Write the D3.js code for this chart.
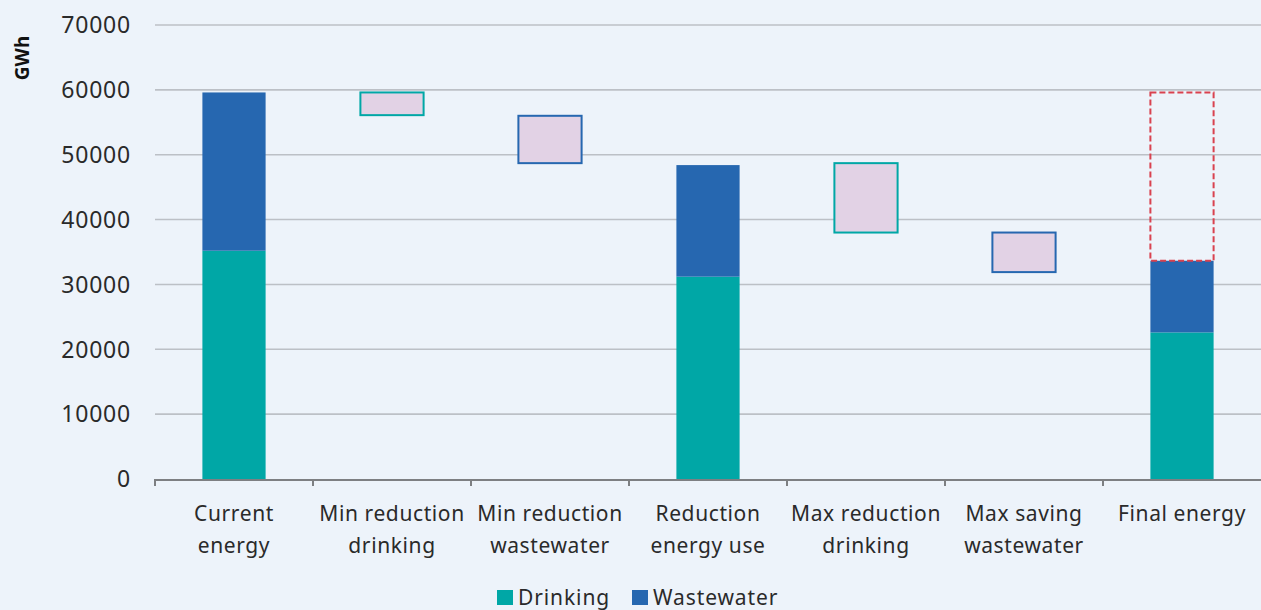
<!DOCTYPE html>
<html>
<head>
<meta charset="utf-8">
<script src="https://cdn.jsdelivr.net/npm/d3@7/dist/d3.min.js"></script>
<style>
  html, body { margin: 0; padding: 0; background: #edf3fa; }
  svg { display: block; }
  text { font-family: "Noto Sans", "Open Sans", sans-serif; fill: #222; }
</style>
</head>
<body>
<svg id="chart" width="1261" height="610"></svg>
<script>
// ---- data ----
const categories = [
  ["Current", "energy"],
  ["Min reduction", "drinking"],
  ["Min reduction", "wastewater"],
  ["Reduction", "energy use"],
  ["Max reduction", "drinking"],
  ["Max saving", "wastewater"],
  ["Final energy"]
];
const categoryKeys = ["current", "minDrink", "minWaste", "reduction", "maxDrink", "maxWaste", "final"];

// stacked bars (value per series)
const stackedKeys = ["current", "reduction", "final"];
const drinkingValues = [35200, 31200, 22600];
const wastewaterValues = [24400, 17200, 11050];

// floating reduction boxes
const floatKeys = ["minDrink", "minWaste", "maxDrink", "maxWaste"];
const floatFrom = [59600, 56000, 48700, 38000];
const floatTo = [56100, 48700, 38000, 31900];
const floatSeries = ["Drinking", "Wastewater", "Drinking", "Wastewater"];

// dashed "saved" box on final energy
const savedFrom = 59600;
const savedTo = 33650;

const yTicks = [0, 10000, 20000, 30000, 40000, 50000, 60000, 70000];
const seriesNames = ["Drinking", "Wastewater"];
const colors = { Drinking: "#00a7a6", Wastewater: "#2667b0" };

// ---- layout ----
const svg = d3.select("#chart");
const mLeft = 155, mRight = 1261, mTop = 25, mBottom = 479;

const x = d3.scaleBand().domain(categoryKeys).range([mLeft, mRight]).paddingInner(0.6).paddingOuter(0.3);
const step = x.step();
const y = d3.scaleLinear().domain([0, 70000]).range([mBottom, mTop]);

// gridlines
svg.append("g").selectAll("line").data(yTicks.filter(d => d > 0)).join("line")
  .attr("x1", mLeft).attr("x2", mRight)
  .attr("y1", d => y(d)).attr("y2", d => y(d))
  .attr("stroke", "#bcc0c6").attr("stroke-width", 1.6);

// y tick labels
svg.append("g").selectAll("text").data(yTicks).join("text")
  .attr("x", 131).attr("y", d => y(d)).attr("dy", "0.36em")
  .attr("text-anchor", "end").style("font-size", "23px").style("letter-spacing", "0.8px")
  .style("fill", "#2a2a2a")
  .text(d => d);

// y title
svg.append("text").attr("transform", "translate(29,58) rotate(-90)")
  .attr("text-anchor", "middle").style("font-size", "19px").style("font-weight", "bold")
  .style("fill", "#111").text("GWh");

// stacked bars
const stackData = stackedKeys.map((k, i) => ({ key: k, Drinking: drinkingValues[i], Wastewater: wastewaterValues[i] }));
const stacked = d3.stack().keys(seriesNames)(stackData);
svg.append("g").selectAll("g").data(stacked).join("g")
  .attr("fill", d => colors[d.key])
  .selectAll("rect").data(d => d).join("rect")
  .attr("x", d => x(d.data.key)).attr("width", x.bandwidth())
  .attr("y", d => y(d[1])).attr("height", d => y(d[0]) - y(d[1]));

// floating boxes
svg.append("g").selectAll("rect").data(floatKeys.map((k, i) => ({ k, a: floatFrom[i], b: floatTo[i], s: floatSeries[i] })))
  .join("rect")
  .attr("x", d => x(d.k)).attr("width", x.bandwidth())
  .attr("y", d => y(d.a)).attr("height", d => y(d.b) - y(d.a))
  .attr("fill", "#e2d2e5").attr("stroke", d => colors[d.s]).attr("stroke-width", 2);

// dashed saved box
svg.append("rect")
  .attr("x", x("final")).attr("width", x.bandwidth())
  .attr("y", y(savedFrom)).attr("height", y(savedTo) - y(savedFrom))
  .attr("fill", "none").attr("stroke", "#d9424f").attr("stroke-width", 2)
  .attr("stroke-dasharray", "6,3");

// x axis line and ticks
svg.append("line").attr("x1", mLeft).attr("x2", mRight).attr("y1", mBottom + 1).attr("y2", mBottom + 1)
  .attr("stroke", "#7d7f82").attr("stroke-width", 2);
const boundaries = d3.range(categoryKeys.length).map(i => mLeft + i * step);
svg.append("g").selectAll("line").data(boundaries).join("line")
  .attr("x1", d => d).attr("x2", d => d).attr("y1", mBottom).attr("y2", mBottom + 7)
  .attr("stroke", "#7d7f82").attr("stroke-width", 2);

// x labels
const lab = svg.append("g").selectAll("text").data(categoryKeys).join("text")
  .attr("text-anchor", "middle").style("font-size", "21px").style("letter-spacing", "0.6px")
  .style("fill", "#2a2a2a");
lab.each(function(k, i) {
  const t = d3.select(this);
  categories[i].forEach((line, j) => {
    t.append("tspan").attr("x", x(k) + x.bandwidth() / 2).attr("y", 521 + j * 32).text(line);
  });
});

// legend
const legend = svg.append("g");
const legendX = [497, 632];
seriesNames.forEach((s, i) => {
  legend.append("rect").attr("x", legendX[i]).attr("y", 590).attr("width", 16).attr("height", 15).attr("fill", colors[s]);
  legend.append("text").attr("x", legendX[i] + 21).attr("y", 605).style("font-size", "21px")
    .style("letter-spacing", "0.9px").style("fill", "#2a2a2a").text(s);
});
</script>
</body>
</html>
